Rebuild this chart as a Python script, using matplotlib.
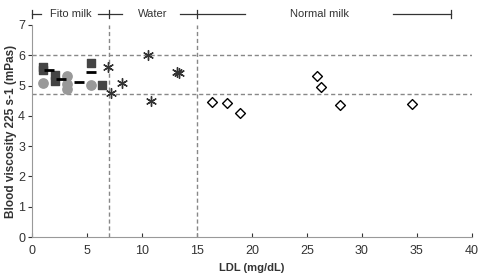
import numpy as np
import matplotlib.pyplot as plt

plt.rcParams['font.family'] = ['Liberation Sans', 'DejaVu Sans']

# Fito milk group
sq_x = [1.0, 1.0, 2.1, 2.1, 5.4, 6.4]
sq_y = [5.62, 5.51, 5.35, 5.15, 5.75, 5.02]
circ_x = [1.0, 3.2, 3.2, 3.2, 5.4]
circ_y = [5.1, 5.3, 5.05, 4.9, 5.02]
dash_x = [1.5, 2.6, 4.3, 5.4]
dash_y = [5.5, 5.22, 5.12, 5.45]

# Water group
water_x = [6.9, 7.2, 8.2, 10.5, 10.8, 13.2, 13.4]
water_y = [5.62, 4.76, 5.07, 6.0, 4.49, 5.45, 5.42]

# Normal milk group
milk_x = [16.4, 17.7, 18.9, 25.9, 26.3, 28.0, 34.6]
milk_y = [4.47, 4.43, 4.08, 5.31, 4.96, 4.36, 4.39]

ref_y = [6.0, 4.72]
ref_x = [7, 15]

fig = plt.figure(figsize=(4.79, 2.77), dpi=100)
ax = fig.add_axes([0.067, 0.144, 0.918, 0.766])

for y in ref_y:
    ax.axhline(y, color='#888888', ls=(0, (3, 2)), lw=1)
for x in ref_x:
    ax.axvline(x, color='#888888', ls=(0, (3, 2)), lw=1)

ax.scatter(sq_x, sq_y, marker='s', s=40, color='#444444', zorder=3)
ax.scatter(circ_x, circ_y, marker='o', s=45, color='#999999', zorder=3)
ax.scatter(dash_x, dash_y, marker='_', s=45, color='black', linewidths=2, zorder=4)
ax.scatter(water_x, water_y, marker=(6, 2, 0), s=50, color='#333333', linewidths=1, zorder=3)
ax.scatter(milk_x, milk_y, marker='D', s=25, facecolor='white', edgecolor='black', linewidths=1, zorder=3)

ax.set_xlim(0, 40)
ax.set_ylim(0, 7)
ax.set_xticks(np.arange(0, 41, 5))
ax.set_yticks(np.arange(0, 8, 1))
ax.tick_params(axis='x', direction='in', length=3, labelsize=9, colors='#333333', pad=6)
ax.tick_params(axis='y', direction='out', length=3, labelsize=9, colors='#333333', pad=2)
for s in ['top', 'right']:
    ax.spines[s].set_visible(False)
for s in ['left', 'bottom']:
    ax.spines[s].set_color('#999999')

ax.set_xlabel('LDL (mg/dL)', fontsize=8, fontweight='bold', color='#333333', labelpad=4)
ax.set_ylabel('Blood viscosity 225 s-1 (mPas)', fontsize=8.5, fontweight='bold', color='#333333', labelpad=1)

# group header above the axes
hy = 7.36
tk = 0.12
kw = dict(color='#333333', lw=0.9, clip_on=False)
ax.plot([0, 0.8], [hy, hy], **kw)
ax.plot([0, 0], [hy - tk, hy + tk], **kw)
ax.text(3.5, hy, 'Fito milk', fontsize=8, ha='center', va='center', color='#333333')
ax.plot([6.0, 8.2], [hy, hy], **kw)
ax.plot([7, 7], [hy - tk, hy + tk], **kw)
ax.text(11.0, hy, 'Water', fontsize=8, ha='center', va='center', color='#333333')
ax.plot([13.5, 19.4], [hy, hy], **kw)
ax.plot([15, 15], [hy - tk, hy + tk], **kw)
ax.text(26.1, hy, 'Normal milk', fontsize=8, ha='center', va='center', color='#333333')
ax.plot([32.8, 38.1], [hy, hy], **kw)
ax.plot([38.1, 38.1], [hy - tk, hy + tk], **kw)

fig.savefig('out.png', dpi=100)
